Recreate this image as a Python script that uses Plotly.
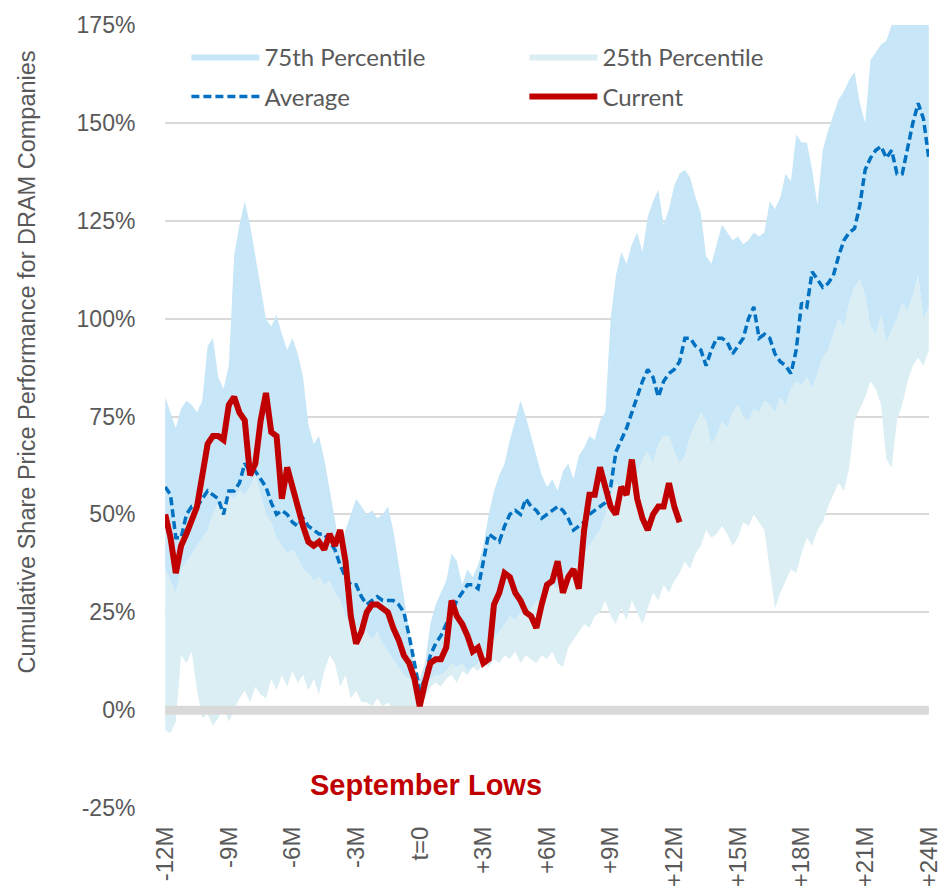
import plotly.graph_objects as go

STEP = 0.25  # months between samples
START = -12

# 75th percentile (top of light-blue band), % cumulative performance
p75 = [80, 76, 72, 77, 79, 78, 76, 79, 93, 95, 85, 82, 88, 116, 124, 130, 124, 116, 108, 100,
       98, 101, 96, 92, 95, 91, 85, 73, 68, 70, 64, 56, 48, 41, 46, 50, 54, 52, 50, 51,
       49, 50, 52, 46, 38, 29, 20, 11, 8, 12, 22, 27, 30, 33, 40, 38, 32, 36, 34, 37,
       42, 50, 56, 60, 63, 69, 74, 79, 75, 70, 65, 60, 57, 59, 56, 61, 63, 59, 65, 67,
       70, 69, 74, 76, 100, 111, 117, 114, 119, 122, 117, 126, 130, 133, 124, 128, 134, 137, 138, 136,
       131, 127, 116, 114, 119, 124, 122, 120, 121, 119, 120, 122, 121, 122, 130, 128, 131, 137, 135, 147,
       145, 145, 138, 129, 143, 148, 152, 156, 158, 161, 163, 155, 150, 166, 168, 170, 171, 175, 180, 182,
       183, 185, 186, 188, 190]

# 25th percentile (top of pale band)
p25 = [36, 33, 30, 36, 38, 40, 42, 44, 46, 50, 53, 52, 55, 54, 56, 55, 57, 60, 55, 50,
       48, 44, 42, 40, 41, 39, 36, 35, 33, 34, 32, 33, 30, 28, 24, 22, 21, 22, 20, 18,
       20, 17, 15, 13, 11, 9, 8, 6, 5, 7, 8, 9, 9, 10, 12, 11, 12, 10, 11, 12,
       14, 16, 18, 20, 22, 24, 23, 25, 24, 26, 28, 27, 30, 32, 31, 34, 35, 36, 38, 40,
       42, 44, 46, 50, 55, 58, 56, 60, 62, 60, 64, 66, 63, 68, 70, 70, 66, 63, 65, 70,
       73, 76, 74, 68, 70, 74, 72, 76, 78, 75, 74, 77, 76, 79, 78, 76, 80, 78, 82, 84,
       83, 85, 82, 86, 90, 92, 96, 100, 98, 104, 108, 110, 106, 98, 96, 101, 94, 97, 100, 104,
       102, 106, 111, 100, 103]

# lower bound of the pale band
low = [-5, -6, -3, 14, 12, 15, 5, -2, -1, -4, -2, 1, -3, 0, 3, 5, 2, 6, 4, 3,
       8, 5, 9, 6, 10, 7, 9, 5, 8, 4, 10, 14, 12, 6, 9, 3, 5, 2, 2, 1,
       3, 1, 2, 0, 0, 0, 0, 0, 0, 3, 6, 7, 6, 8, 9, 7, 10, 9, 11, 10,
       12, 11, 13, 12, 14, 13, 15, 12, 14, 13, 12, 14, 13, 15, 12, 11, 16, 18, 20, 22,
       21, 24, 25, 28, 24, 22, 26, 23, 28, 25, 22, 26, 30, 28, 32, 30, 33, 35, 38, 36,
       40, 42, 46, 44, 45, 47, 45, 42, 44, 48, 47, 50, 48, 46, 36, 26, 30, 33, 36, 35,
       40, 44, 42, 46, 48, 52, 55, 58, 56, 62, 74, 77, 80, 84, 82, 78, 64, 62, 74, 78,
       84, 88, 90, 88, 92]

average = [57, 55, 44, 44, 50, 52, 52, 54, 56, 55, 54, 50, 56, 56, 58, 63, 61, 61, 59, 57,
           53, 50, 51, 50, 48, 47, 49, 47, 46, 45, 45, 43, 41, 37, 34, 32, 32, 29, 27, 28,
           29, 28, 28, 28, 27, 25, 19, 12, 5, 8, 14, 17, 19, 22, 25, 28, 30, 32, 32, 31,
           38, 45, 44, 43, 47, 50, 51, 50, 54, 52, 51, 49, 50, 51, 52, 51, 49, 46, 47, 48,
           50, 51, 52, 53, 57, 66, 69, 72, 76, 80, 84, 87, 85, 80, 84, 86, 87, 89, 95, 95,
           93, 92, 88, 92, 95, 95, 94, 91, 93, 95, 100, 103, 95, 96, 95, 91, 89, 88, 86, 92,
           104, 103, 112, 110, 108, 109, 111, 116, 120, 122, 123, 129, 138, 141, 143, 144, 141, 143, 137, 137,
           144, 150, 155, 151, 141]

current = [50, 44, 35, 42, 45, 49, 52, 60, 68, 70, 70, 69, 78, 80, 76, 74, 60, 63, 74, 81,
           71, 70, 54, 62, 57, 51, 47, 43, 42, 43, 41, 45, 42, 46, 38, 24, 17, 20, 25, 27,
           27, 26, 25, 21, 18, 14, 12, 8, 1, 7, 12, 13, 13, 16, 28, 24, 22, 19, 15, 16,
           12, 13, 27, 30, 35, 34, 30, 28, 25, 24, 21, 27, 32, 33, 38, 30, 34, 36, 31, 46,
           55, 55, 62, 57, 52, 50, 57, 55, 64, 54, 49, 46, 50, 52, 52, 58, 52, 48]

tick_vals = [-12, -9, -6, -3, 0, 3, 6, 9, 12, 15, 18, 21, 24]
tick_text = ["-12M", "-9M", "-6M", "-3M", "t=0", "+3M", "+6M", "+9M", "+12M", "+15M", "+18M", "+21M", "+24M"]
y_ticks = [-25, 0, 25, 50, 75, 100, 125, 150, 175]
y_tick_text = [f"{v}%" for v in y_ticks]
X_RANGE = [-12, 24]
Y_RANGE = [-25, 175]

def months(n):
    return [START + STEP * i for i in range(n)]

LIGHT_BLUE = "#c7e6f7"
PALE = "#daeef3"
TXT = "#595959"
SANS = "Liberation Sans, Arial"

fig = go.Figure()
fig.add_trace(go.Scatter(x=months(len(low)), y=low, mode="lines", line=dict(width=0, color=PALE),
                         showlegend=False, hoverinfo="skip"))
fig.add_trace(go.Scatter(x=months(len(p25)), y=p25, mode="lines", line=dict(width=0, color=PALE),
                         fill="tonexty", fillcolor=PALE, name="25th Percentile", legendrank=2,
                         legend="legend"))
fig.add_trace(go.Scatter(x=months(len(p75)), y=p75, mode="lines", line=dict(width=0, color=LIGHT_BLUE),
                         fill="tonexty", fillcolor=LIGHT_BLUE, name="75th Percentile", legendrank=1,
                         legend="legend"))
fig.add_trace(go.Scatter(x=X_RANGE, y=[0, 0], mode="lines", line=dict(width=9, color="#d9d9d9"),
                         showlegend=False, hoverinfo="skip"))
fig.add_trace(go.Scatter(x=months(len(average)), y=average, mode="lines",
                         line=dict(width=3.5, color="#0070c0", dash="8px,4px"),
                         name="Average", legendrank=3, legend="legend2"))
fig.add_trace(go.Scatter(x=months(len(current)), y=current, mode="lines",
                         line=dict(width=6, color="#c00000"),
                         name="Current", legendrank=4, legend="legend2"))

leg_common = dict(orientation="h", xanchor="left", yanchor="middle",
                  entrywidth=255, entrywidthmode="pixels", itemwidth=68,
                  bgcolor="rgba(0,0,0,0)", font=dict(family="Lato, Open Sans", size=24, color=TXT),
                  traceorder="normal")

fig.update_layout(
    width=940, height=882,
    margin=dict(l=157, r=19, t=17, b=82),
    plot_bgcolor="white", paper_bgcolor="white",
    showlegend=True,
    legend=dict(x=0.028, y=(808 - 57) / 783, **leg_common),
    legend2=dict(x=0.028, y=(808 - 97) / 783, **leg_common),
    xaxis=dict(range=[X_RANGE[0] - 0.01, X_RANGE[1] + 0.01], tickvals=tick_vals, ticktext=tick_text,
               tickangle=-90, automargin=False, ticklabeloverflow="allow",
               showgrid=False, zeroline=False, showline=False,
               ticks="outside", ticklen=8, tickcolor="rgba(0,0,0,0)",
               tickfont=dict(family=SANS, size=24, color=TXT)),
    yaxis=dict(range=Y_RANGE, tickvals=y_ticks, ticktext=y_tick_text, automargin=False,
               showgrid=True, gridcolor="#d9d9d9", gridwidth=1.5, zeroline=False, showline=False,
               ticks="outside", ticklen=24, tickcolor="rgba(0,0,0,0)",
               tickfont=dict(family=SANS, size=23, color=TXT)),
    annotations=[
        dict(text="Cumulative Share Price Performance for DRAM Companies", textangle=-90,
             xref="paper", yref="paper", x=-0.181, y=0.57, xanchor="center", yanchor="middle",
             showarrow=False, font=dict(family=SANS, size=23.5, color=TXT)),
        dict(text="<b>September Lows</b>", xref="x", yref="y", x=0.3, y=-19,
             xanchor="center", yanchor="middle", showarrow=False,
             font=dict(family=SANS, size=29, color="#c00000")),
    ],
)

fig.write_html("out.html")
